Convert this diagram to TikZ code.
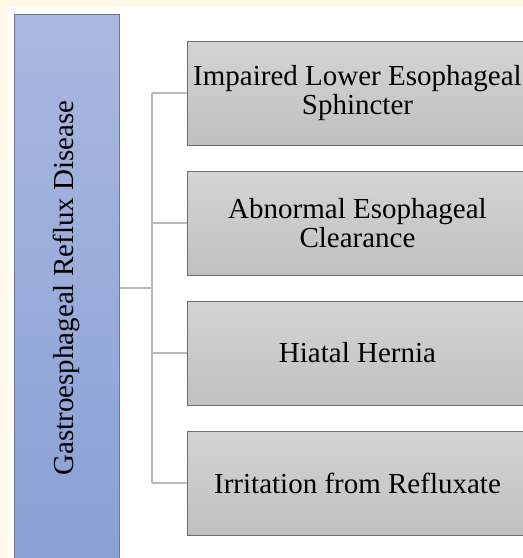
\documentclass[tikz,border=0pt]{standalone}
\usepackage{fontspec}
\setmainfont{Liberation Serif}
\usepackage{tikz}
\usetikzlibrary{calc,positioning}

\definecolor{Cream}{RGB}{255,250,231}
\definecolor{BoxTop}{RGB}{212,212,212}
\definecolor{BoxBot}{RGB}{192,192,192}
\definecolor{BoxLine}{RGB}{110,110,110}
\definecolor{GerdTop}{RGB}{169,184,224}
\definecolor{GerdBot}{RGB}{137,160,214}
\definecolor{GerdLine}{RGB}{110,120,150}
\definecolor{LinkGray}{RGB}{185,185,185}

\begin{document}
\begin{tikzpicture}[
    x=1pt, y=-1pt,
    every node/.style={font=\fontsize{29}{29}\selectfont, text=black},
    cause/.style={rectangle, draw=BoxLine, line width=1pt, top color=BoxTop, bottom color=BoxBot,
                  minimum width=341pt, minimum height=104pt, inner sep=0pt, align=center},
    disease/.style={rectangle, draw=GerdLine, line width=1pt, top color=GerdTop, bottom color=GerdBot,
                    minimum width=105pt, minimum height=548pt, inner sep=0pt},
    link/.style={draw=LinkGray, line width=1.5pt}
]
    % --- Hintergrund ---
    \useasboundingbox (0,0) rectangle (523,558);
    \fill[Cream] (0,0) rectangle (523,558);
    \fill[white] (8,7) rectangle (523,558);
    \clip (0,0) rectangle (523,558);

    % --- Hauptknoten (links) ---
    \node[disease] (gerd) at (66.5,288) {\rotatebox{90}{Gastroesphageal Reflux Disease}};

    % --- Ursachen (rechts) ---
    \node[cause] (c1) at (357.5,93)  {Impaired Lower Esophageal\\Sphincter};
    \node[cause] (c2) at (357.5,223) {Abnormal Esophageal\\Clearance};
    \node[cause] (c3) at (357.5,353) {Hiatal Hernia};
    \node[cause] (c4) at (357.5,483) {Irritation from Refluxate};

    % --- Verbindungen ---
    \coordinate (trunk) at (152,288);
    \draw[link] (gerd.east) -- (trunk);
    \draw[link] (trunk |- c1.west) -- (trunk |- c4.west);
    \foreach \i in {1,...,4} {
        \draw[link] (trunk |- c\i.west) -- (c\i.west);
    }

\end{tikzpicture}
\end{document}
